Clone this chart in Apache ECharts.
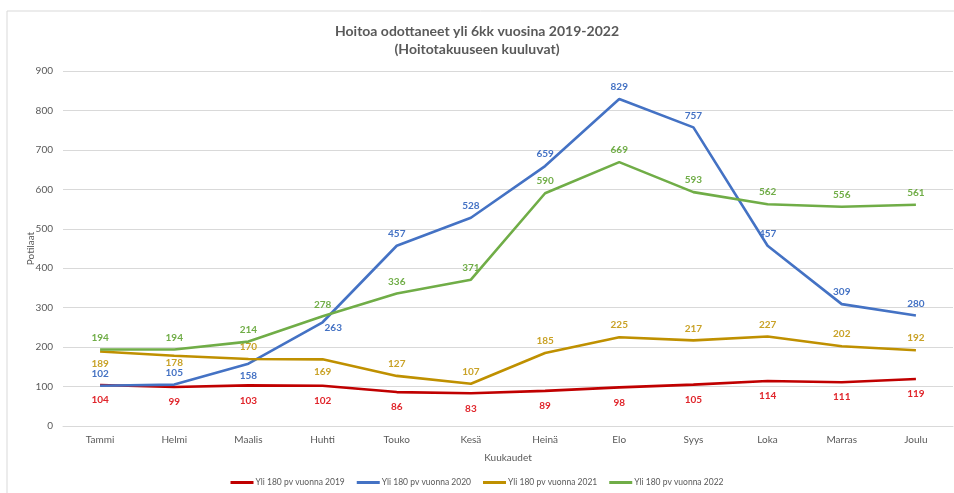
<!DOCTYPE html>
<html><head><meta charset="utf-8">
<script src="https://cdn.jsdelivr.net/npm/echarts@6/dist/echarts.min.js"></script>
<style>html,body{margin:0;padding:0;background:#fff}#c{width:954px;height:493px}</style>
</head><body><div id="c"></div>
<script>
const months = ["Tammi","Helmi","Maalis","Huhti","Touko","Kesä","Heinä","Elo","Syys","Loka","Marras","Joulu"];
const yTicks = [0,100,200,300,400,500,600,700,800,900];
const names = ["Yli 180 pv vuonna 2019","Yli 180 pv vuonna 2020","Yli 180 pv vuonna 2021","Yli 180 pv vuonna 2022"];
const v2019 = [104,99,103,102,86,83,89,98,105,114,111,119];
const v2020 = [102,105,158,263,457,528,659,829,757,457,309,280];
const v2021 = [189,178,170,169,127,107,185,225,217,227,202,192];
const v2022 = [194,194,214,278,336,371,590,669,593,562,556,561];

const lineColors = ["#C00000","#4472C4","#BF9000","#70AD47"];
const labelColors = ["#E0252B","#4472C4","#C9A227","#70AD47"];
const pos = [
  Array(12).fill("bottom"),
  ["top","top","bottom","belowRight","top","top","top","top","top","top","top","top"],
  ["bottom","bottom","top","bottom","top","top","top","top","top","top","top","top"],
  Array(12).fill("top")
];
const dist = [
  Array(12).fill(10),
  Array(12).fill(7),
  [7,2,7,7,7,7,7,7,7,7,7,7],
  Array(12).fill(7)
];
const allVals = [v2019,v2020,v2021,v2022];
const font = "Lato, 'Open Sans', sans-serif";

const series = allVals.map((vals,i)=>({
  name: names[i], type:"line", symbol:"circle", symbolSize:0.1, showSymbol:true, smooth:false,
  lineStyle:{width:2.6,color:lineColors[i]}, itemStyle:{color:lineColors[i]},
  data: vals.map((v,j)=>{
    const p = pos[i][j];
    const lab = p==="belowRight" ? {position:[2,1]} : {position:p,distance:dist[i][j]};
    return {value:v,label:lab};
  }),
  label:{show:true,fontSize:10,fontWeight:"bold",color:labelColors[i],fontFamily:font},
  labelLayout:{hideOverlap:false},
  z: 2+i
}));

const chart = echarts.init(document.getElementById("c"));
chart.setOption({
  animation:false,
  textStyle:{fontFamily:font},
  graphic:[{type:"polyline",shape:{points:[[7,493],[7,11],[954,11]]},style:{stroke:"#d9d9d9",lineWidth:1,fill:null},silent:true}],
  title:{text:"Hoitoa odottaneet yli 6kk vuosina 2019-2022\n(Hoitotakuuseen kuuluvat)",left:"center",top:17,
    textStyle:{fontSize:14,fontWeight:"bold",color:"#595959",fontFamily:font,lineHeight:18}},
  legend:{bottom:1,left:"center",itemGap:12,itemWidth:23,itemHeight:3,icon:"rect",
    textStyle:{fontSize:8.5,color:"#595959",fontFamily:font,padding:[0,0,0,-3]},data:names},
  grid:{left:63,right:1,top:71,bottom:67,containLabel:false},
  xAxis:{type:"category",data:months,boundaryGap:true,name:"Kuukaudet",nameLocation:"middle",nameGap:27,
    nameMoveOverlap:false,
    nameTextStyle:{fontSize:10,color:"#595959"},
    axisLine:{show:true,lineStyle:{color:"#d9d9d9",width:1}},axisTick:{show:false},
    axisLabel:{fontSize:10,color:"#595959",margin:9}},
  yAxis:{type:"value",min:yTicks[0],max:yTicks[yTicks.length-1],interval:100,name:"Potilaat",nameLocation:"middle",nameGap:27,
    nameMoveOverlap:false,
    nameTextStyle:{fontSize:10,color:"#595959"},
    axisLine:{show:false},axisTick:{show:false},
    axisLabel:{fontSize:10,color:"#595959",margin:10},
    splitLine:{lineStyle:{color:"#d9d9d9",width:1}}},
  series
});
</script></body></html>
